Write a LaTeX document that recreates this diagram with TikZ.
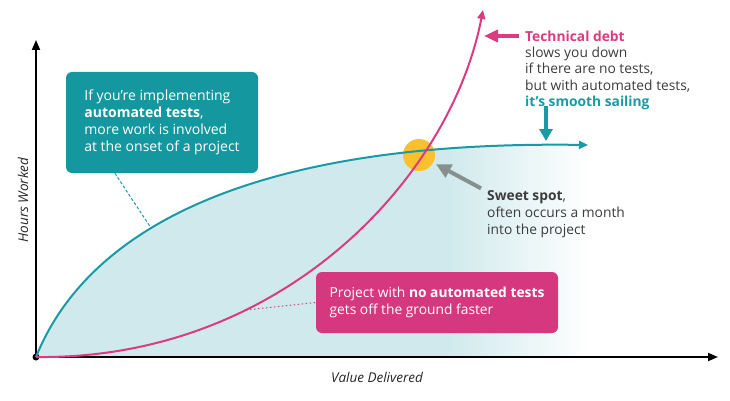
\documentclass[tikz,border=0pt]{standalone}
\usepackage{fontspec}
\setmainfont{Open Sans}
\usetikzlibrary{arrows.meta,calc}
\definecolor{tealc}{HTML}{1A9AA5}
\definecolor{tealboxc}{HTML}{15979F}
\definecolor{pinkc}{HTML}{DD3A82}
\definecolor{pinkboxc}{HTML}{D6387F}
\definecolor{tealfill}{HTML}{CFE9EC}
\definecolor{spotc}{HTML}{FBC02D}
\definecolor{grayc}{HTML}{85908F}
\definecolor{textc}{HTML}{3C3C3C}
\begin{document}
\begin{tikzpicture}[x=1pt,y=-1pt,
  every node/.style={inner sep=0pt},
  axisline/.style={draw=black, line width=1.8pt, -{Triangle[length=10pt,width=8pt]}},
  curveT/.style={draw=tealc, line width=2pt, -{Triangle[length=9pt,width=8pt]}},
  curveP/.style={draw=pinkc, line width=2pt, -{Triangle[length=9pt,width=8pt]}},
  bigarrow/.style={line width=4pt, -{Triangle[length=12pt,width=13pt]}},
  boxstyle/.style={rounded corners=6pt, align=left, text=white},
  ann/.style={align=left, text=textc, font=\fontsize{13.8}{16.8}\selectfont},
  annbold/.style={ann, font=\bfseries\fontsize{13.8}{16.8}\selectfont},
  axlabel/.style={text=black!85, font=\itshape\fontsize{13.5}{15}\selectfont}
]
\useasboundingbox (0,0) rectangle (730,401);

% shaded area under the teal curve
\begin{scope}
  \clip (36,357) .. controls (85,235) and (240,140) .. (588,145) -- (588,357) -- cycle;
  \fill[tealfill] (30,130) rectangle (445,360);
  \shade[left color=tealfill, right color=white] (445,130) rectangle (590,360);
\end{scope}

% axes
\coordinate (O) at (36,357);
\coordinate (ytip) at (36,40);
\coordinate (xtip) at (718,357);
\draw[axisline] (O) -- (ytip);
\draw[axisline] (O) -- (xtip);
\fill[black] (O) circle (3.5);
\node[axlabel] (xl) at (377,377) {Value Delivered};
\node[axlabel, rotate=90] (yl) at (23,200) {Hours Worked};

% sweet spot
\node[circle, fill=spotc, minimum size=32pt] (spot) at (419,155) {};

% curves
\draw[curveT] (O) .. controls (85,235) and (240,140) .. (588,145);
\draw[curveP] (O) .. controls (280,360) and (450,180) .. (483,10);

% teal box
\node[boxstyle, fill=tealboxc, minimum width=192pt, minimum height=101pt,
      font=\fontsize{14}{16.8}\selectfont] (tbox) at (162,122.5)
  {If you’re implementing\\\textbf{automated tests},\\more work is involved\\at the onset of a project};
\coordinate (tcurve) at (151,228);
\draw[tealc, line width=1pt, dash pattern=on 3pt off 2pt]
  ($(tbox.south west)!0.255!(tbox.south east)$) -- (tcurve);

% pink box
\node[boxstyle, fill=pinkboxc, minimum width=242pt, minimum height=61pt,
      font=\fontsize{13.8}{16.5}\selectfont] (pbox) at (437,302.5)
  {Project with \textbf{no automated tests}\\gets off the ground faster};
\coordinate (pcurve) at (246,310);
\draw[pinkc, line width=1pt, dash pattern=on 1.5pt off 2.5pt] (pcurve) -- (pbox.west);

% technical debt annotation
\node[annbold, anchor=west, text=pinkc] (tech) at (525,36) {Technical debt};
\node[ann, anchor=west] (techrest) at (525,69.5) {slows you down\\if there are no tests,\\but with automated tests,};
\node[annbold, anchor=west, text=tealc] (sail) at (525,103) {it’s smooth sailing};
\coordinate (techtip) at (484,36);
\draw[pinkc, bigarrow, -{Triangle[length=14pt,width=12pt]}] ([xshift=-6pt]tech.west) -- (techtip);
\coordinate (sailtip) at (546,141);
\draw[tealc, bigarrow] ([yshift=4pt]sail.south -| sailtip) -- (sailtip);

% sweet spot annotation
\node[ann, anchor=west] (sweet) at (487,214) {\textbf{Sweet spot},\\often occurs a month\\into the project};
\draw[grayc, bigarrow, -{Triangle[length=15pt,width=14pt]}, shorten >=3pt] ([xshift=-6pt,yshift=2pt]sweet.north west) -- (spot);
\end{tikzpicture}
\end{document}
